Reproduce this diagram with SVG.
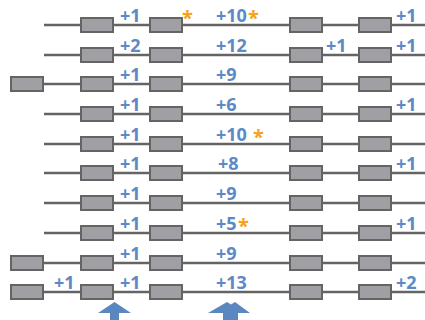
<svg xmlns="http://www.w3.org/2000/svg" width="425" height="320" viewBox="0 0 425 320">
<style>
.ln{stroke:#646464;stroke-width:2.5;fill:none}
.bx{fill:#a0a0a4;stroke:#646464;stroke-width:2}
.t{font-family:"Open Sans",sans-serif;font-weight:bold;font-size:18px;fill:#5b8ac6}
.s{font-family:"Open Sans",sans-serif;font-weight:bold;font-size:20px;fill:#f7a11a}
.ar{fill:#5b87c0}
</style>
<defs>
<rect id="b" class="bx" x="0" y="-7" width="32" height="14"/>
</defs>
<g id="connectors">
<line class="ln" x1="44" y1="25" x2="425" y2="25"/>
<line class="ln" x1="44" y1="55" x2="425" y2="55"/>
<line class="ln" x1="10" y1="84" x2="425" y2="84"/>
<line class="ln" x1="44" y1="114" x2="425" y2="114"/>
<line class="ln" x1="44" y1="144" x2="425" y2="144"/>
<line class="ln" x1="44" y1="173" x2="425" y2="173"/>
<line class="ln" x1="44" y1="203" x2="425" y2="203"/>
<line class="ln" x1="44" y1="233" x2="425" y2="233"/>
<line class="ln" x1="10" y1="263" x2="425" y2="263"/>
<line class="ln" x1="10" y1="292" x2="425" y2="292"/>
</g>
<g id="row1">
<use href="#b" x="81" y="25"/><use href="#b" x="150" y="25"/><use href="#b" x="290" y="25"/><use href="#b" x="359" y="25"/>
<text class="t" x="120" y="22">+1</text><text class="s" x="182" y="25">*</text>
<text class="t" x="216" y="22">+10</text><text class="s" x="248" y="25">*</text>
<text class="t" x="396" y="22">+1</text>
</g>
<g id="row2">
<use href="#b" x="81" y="55"/><use href="#b" x="150" y="55"/><use href="#b" x="290" y="55"/><use href="#b" x="359" y="55"/>
<text class="t" x="120" y="52">+2</text><text class="t" x="216" y="52">+12</text>
<text class="t" x="326" y="52">+1</text><text class="t" x="396" y="52">+1</text>
</g>
<g id="row3">
<use href="#b" x="11" y="84"/><use href="#b" x="81" y="84"/><use href="#b" x="150" y="84"/><use href="#b" x="290" y="84"/><use href="#b" x="359" y="84"/>
<text class="t" x="120" y="81">+1</text><text class="t" x="216" y="81">+9</text>
</g>
<g id="row4">
<use href="#b" x="81" y="114"/><use href="#b" x="150" y="114"/><use href="#b" x="290" y="114"/><use href="#b" x="359" y="114"/>
<text class="t" x="120" y="111">+1</text><text class="t" x="216" y="111">+6</text><text class="t" x="396" y="111">+1</text>
</g>
<g id="row5">
<use href="#b" x="81" y="144"/><use href="#b" x="150" y="144"/><use href="#b" x="290" y="144"/><use href="#b" x="359" y="144"/>
<text class="t" x="120" y="141">+1</text><text class="t" x="216" y="141">+10</text><text class="s" x="253" y="144">*</text>
</g>
<g id="row6">
<use href="#b" x="81" y="173"/><use href="#b" x="150" y="173"/><use href="#b" x="290" y="173"/><use href="#b" x="359" y="173"/>
<text class="t" x="120" y="170">+1</text><text class="t" x="218" y="170">+8</text><text class="t" x="396" y="170">+1</text>
</g>
<g id="row7">
<use href="#b" x="81" y="203"/><use href="#b" x="150" y="203"/><use href="#b" x="290" y="203"/><use href="#b" x="359" y="203"/>
<text class="t" x="120" y="200">+1</text><text class="t" x="216" y="200">+9</text>
</g>
<g id="row8">
<use href="#b" x="81" y="233"/><use href="#b" x="150" y="233"/><use href="#b" x="290" y="233"/><use href="#b" x="359" y="233"/>
<text class="t" x="120" y="230">+1</text><text class="t" x="216" y="230">+5</text><text class="s" x="238" y="233">*</text>
<text class="t" x="396" y="230">+1</text>
</g>
<g id="row9">
<use href="#b" x="11" y="263"/><use href="#b" x="81" y="263"/><use href="#b" x="150" y="263"/><use href="#b" x="290" y="263"/><use href="#b" x="359" y="263"/>
<text class="t" x="120" y="260">+1</text><text class="t" x="216" y="260">+9</text>
</g>
<g id="row10">
<use href="#b" x="11" y="292"/><use href="#b" x="81" y="292"/><use href="#b" x="150" y="292"/><use href="#b" x="290" y="292"/><use href="#b" x="359" y="292"/>
<text class="t" x="54" y="289">+1</text><text class="t" x="120" y="289">+1</text><text class="t" x="216" y="289">+13</text><text class="t" x="396" y="289">+2</text>
</g>
<g id="arrows">
<path class="ar" d="M114.5 302 L131 313 L119 313 L119 320 L110 320 L110 313 L98 313 Z"/>
<path class="ar" d="M208 313 L227 302 L231 304.5 L235 302 L250 313 L238 313 L238 320 L223 320 L223 313 Z"/>
</g>
</svg>
